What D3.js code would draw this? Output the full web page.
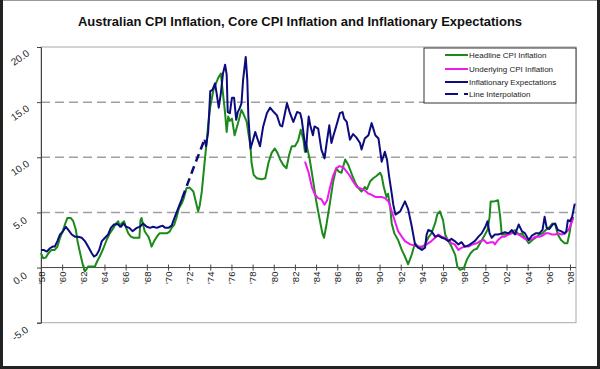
<!DOCTYPE html>
<html><head><meta charset="utf-8">
<script src="https://cdn.jsdelivr.net/npm/d3@7"></script>
<style>body{margin:0;background:#fff}svg{display:block}text{font-family:Arial,"Liberation Sans",sans-serif}</style>
</head><body><svg id="c" width="600" height="369"></svg>
<script>
const chartTitle = "Australian CPI Inflation, Core CPI Inflation and Inflationary Expectations";
const seriesNames = ["Headline CPI Inflation", "Underlying CPI Inflation", "Inflationary Expectations", "Line Interpolation"];
const xTickYears = [1958,1960,1962,1964,1966,1968,1970,1972,1974,1976,1978,1980,1982,1984,1986,1988,1990,1992,1994,1996,1998,2000,2002,2004,2006,2008];
const xTickLabels = ["'58","'60","'62","'64","'66","'68","'70","'72","'74","'76","'78","'80","'82","'84","'86","'88","'90","'92","'94","'96","'98","'00","'02","'04","'06","'08"];
const yTickValues = [-5, 0, 5, 10, 15, 20];
const yTickLabels = ["-5.0", "0.0", "5.0", "10.0", "15.0", "20.0"];
const gridValues = [5, 10, 15];

// [year, %]
const headline = [
[1958.0,1.3],[1958.2,0.85],[1958.45,0.9],[1958.7,1.3],[1959.0,1.6],[1959.3,1.6],[1959.55,1.9],[1959.8,2.7],[1960.05,3.3],[1960.3,4.0],[1960.5,4.5],[1960.8,4.5],[1961.05,4.2],[1961.3,3.4],[1961.45,2.4],[1961.7,1.3],[1961.95,0.25],[1962.15,-0.35],[1962.3,-0.15],[1962.45,0.1],[1962.8,0.1],[1963.1,0.1],[1963.3,0.55],[1963.55,1.0],[1963.9,1.75],[1964.2,2.5],[1964.5,3.1],[1964.85,3.6],[1965.1,4.0],[1965.3,4.2],[1965.45,3.7],[1965.6,4.0],[1965.85,4.2],[1966.05,3.6],[1966.25,3.1],[1966.5,2.8],[1966.75,2.7],[1967.05,2.7],[1967.3,2.7],[1967.4,4.3],[1967.5,4.5],[1967.65,3.9],[1967.8,3.3],[1968.0,3.0],[1968.15,2.8],[1968.3,2.4],[1968.45,1.9],[1968.7,2.4],[1968.95,2.8],[1969.2,3.1],[1969.55,3.1],[1969.9,3.1],[1970.15,3.25],[1970.35,3.6],[1970.6,3.9],[1970.8,4.5],[1971.05,5.4],[1971.3,5.8],[1971.5,6.3],[1971.75,7.2],[1972.05,7.25],[1972.4,6.9],[1972.6,6.1],[1972.85,5.1],[1973.0,5.6],[1973.2,6.9],[1973.35,8.4],[1973.5,9.9],[1973.65,11.3],[1973.8,12.9],[1974.0,14.6],[1974.3,16.1],[1974.75,17.2],[1975.0,17.6],[1975.2,15.8],[1975.4,14.0],[1975.55,12.3],[1975.7,13.7],[1975.85,13.3],[1976.05,13.5],[1976.3,12.0],[1976.65,13.2],[1976.95,14.3],[1977.15,13.9],[1977.45,13.2],[1977.6,12.2],[1977.8,11.0],[1977.9,9.5],[1978.1,8.4],[1978.4,8.1],[1978.85,8.0],[1979.2,8.1],[1979.5,9.5],[1979.8,10.4],[1980.1,10.8],[1980.35,10.4],[1980.6,9.8],[1980.9,9.3],[1981.2,9.0],[1981.45,10.2],[1981.7,11.0],[1982.0,11.0],[1982.3,11.5],[1982.55,12.5],[1982.8,11.6],[1982.95,10.5],[1983.1,11.1],[1983.4,9.8],[1983.7,8.0],[1984.0,6.1],[1984.35,4.3],[1984.6,3.1],[1984.75,2.7],[1985.0,4.0],[1985.3,5.8],[1985.6,7.7],[1985.9,9.0],[1986.15,8.7],[1986.4,8.6],[1986.75,9.8],[1987.05,9.3],[1987.4,8.4],[1987.7,7.7],[1988.0,7.2],[1988.3,6.9],[1988.6,7.3],[1988.8,7.1],[1989.1,7.8],[1989.4,8.1],[1989.7,8.3],[1990.05,8.6],[1990.2,8.3],[1990.4,7.3],[1990.65,6.4],[1990.8,6.7],[1991.0,5.5],[1991.15,4.0],[1991.4,3.1],[1991.75,2.5],[1992.1,1.6],[1992.4,1.0],[1992.7,0.3],[1993.05,1.2],[1993.35,2.2],[1993.65,1.9],[1994.0,1.8],[1994.3,2.1],[1994.6,2.7],[1994.9,3.1],[1995.25,4.0],[1995.45,4.8],[1995.7,5.1],[1996.0,4.3],[1996.2,3.0],[1996.5,2.4],[1996.8,1.9],[1997.15,1.15],[1997.35,0.1],[1997.6,-0.2],[1997.95,-0.1],[1998.25,0.7],[1998.6,1.3],[1998.9,1.6],[1999.2,1.7],[1999.5,2.2],[1999.85,2.8],[2000.2,3.4],[2000.4,4.6],[2000.5,6.0],[2000.85,6.0],[2001.2,6.1],[2001.4,4.6],[2001.55,3.0],[2001.9,3.0],[2002.2,3.1],[2002.5,3.2],[2002.8,3.4],[2003.15,3.0],[2003.45,3.1],[2003.75,2.7],[2004.1,2.2],[2004.45,2.5],[2004.75,2.7],[2005.1,3.0],[2005.4,3.1],[2005.7,3.4],[2006.0,3.6],[2006.35,4.0],[2006.6,3.9],[2006.85,3.0],[2007.15,2.5],[2007.5,2.2],[2007.75,2.2],[2007.95,3.1],[2008.1,4.0],[2008.3,4.6]
];

const underlying = [
[1982.95,9.6],[1983.3,8.6],[1983.6,7.3],[1983.9,6.6],[1984.2,6.3],[1984.5,6.2],[1984.8,5.7],[1985.05,6.1],[1985.3,7.2],[1985.6,8.3],[1985.9,9.0],[1986.2,9.2],[1986.55,9.1],[1986.9,8.7],[1987.2,8.3],[1987.5,7.8],[1987.85,7.3],[1988.15,7.2],[1988.6,7.0],[1988.95,6.7],[1989.25,6.6],[1989.6,6.4],[1989.9,6.4],[1990.2,6.4],[1990.5,6.3],[1990.85,6.0],[1991.15,5.1],[1991.45,4.2],[1991.75,3.3],[1992.1,2.8],[1992.4,2.4],[1992.9,2.1],[1993.3,2.0],[1993.65,1.9],[1994.0,1.9],[1994.45,2.1],[1994.9,2.4],[1995.25,2.7],[1995.55,3.0],[1995.85,2.8],[1996.2,2.7],[1996.5,2.5],[1996.8,2.2],[1997.1,2.1],[1997.45,1.6],[1997.75,1.8],[1998.05,1.9],[1998.4,1.9],[1998.8,2.1],[1999.2,2.2],[1999.5,2.4],[1999.85,2.5],[2000.15,2.2],[2000.5,2.3],[2000.75,2.3],[2000.9,2.1],[2001.2,2.5],[2001.55,2.8],[2001.85,2.8],[2002.2,3.0],[2002.5,3.1],[2002.8,3.1],[2003.15,3.0],[2003.45,2.8],[2003.75,2.6],[2004.1,2.5],[2004.45,2.6],[2004.75,2.8],[2005.1,2.8],[2005.4,2.9],[2005.7,3.1],[2006.0,3.1],[2006.3,3.0],[2006.6,3.0],[2006.9,3.1],[2007.2,3.0],[2007.55,3.1],[2007.85,3.4],[2008.2,4.2],[2008.3,4.5]
];

const expectations = [
[1958.0,1.6],[1958.25,1.6],[1958.55,1.45],[1958.85,1.75],[1959.1,1.9],[1959.3,1.9],[1959.55,2.4],[1959.8,3.0],[1960.05,3.25],[1960.35,3.7],[1960.6,3.4],[1960.9,3.0],[1961.2,2.8],[1961.5,2.8],[1961.85,2.7],[1962.15,2.4],[1962.45,1.9],[1962.8,1.3],[1963.0,1.0],[1963.25,1.15],[1963.5,1.6],[1963.75,2.4],[1964.05,2.7],[1964.35,3.0],[1964.6,3.6],[1964.9,3.9],[1965.2,3.95],[1965.55,3.7],[1965.8,4.0],[1966.05,3.7],[1966.35,3.6],[1966.65,3.3],[1967.05,3.6],[1967.35,3.7],[1967.65,4.0],[1968.0,3.7],[1968.3,3.6],[1968.6,3.7],[1968.95,3.6],[1969.2,3.7],[1969.5,3.8],[1969.75,3.6],[1970.05,3.6],[1970.35,3.8],[1970.65,4.6],[1970.9,5.2],[1971.1,5.7],[1971.35,6.3],
[1972.4,null],
[1973.45,11.6],[1973.6,11.0],[1973.8,12.3],[1974.0,16.0],[1974.2,16.1],[1974.45,16.7],[1974.6,15.8],[1974.8,14.5],[1975.0,15.8],[1975.2,17.6],[1975.4,18.4],[1975.55,17.5],[1975.65,14.1],[1975.85,14.0],[1976.05,15.4],[1976.25,15.4],[1976.45,13.4],[1976.6,14.1],[1976.8,14.5],[1976.95,14.9],[1977.1,17.0],[1977.35,19.1],[1977.5,17.0],[1977.6,13.7],[1977.8,10.8],[1978.05,11.6],[1978.25,12.3],[1978.45,11.7],[1978.7,11.0],[1979.0,12.8],[1979.35,14.0],[1979.65,14.5],[1980.0,14.1],[1980.3,13.8],[1980.6,12.9],[1980.8,12.8],[1980.95,13.5],[1981.25,14.9],[1981.5,14.1],[1981.85,13.2],[1982.2,14.1],[1982.5,14.0],[1982.65,13.4],[1982.85,11.9],[1983.05,10.5],[1983.15,12.0],[1983.3,13.7],[1983.45,12.9],[1983.7,12.0],[1983.85,12.8],[1984.2,12.6],[1984.5,10.7],[1984.8,9.9],[1985.0,11.3],[1985.25,12.9],[1985.45,11.3],[1985.65,12.0],[1985.9,12.8],[1986.25,14.0],[1986.5,14.1],[1986.65,13.5],[1986.9,13.2],[1987.2,11.6],[1987.5,12.1],[1987.8,11.8],[1988.15,11.3],[1988.3,10.7],[1988.6,11.7],[1988.95,12.0],[1989.25,13.1],[1989.6,12.0],[1989.9,11.7],[1990.2,9.6],[1990.5,10.5],[1990.7,9.8],[1990.9,8.3],[1991.15,6.7],[1991.3,5.7],[1991.5,4.8],[1991.95,5.1],[1992.4,6.0],[1992.7,5.3],[1993.05,3.7],[1993.35,2.1],[1993.65,1.8],[1994.0,1.6],[1994.3,1.8],[1994.45,3.0],[1994.6,3.4],[1994.9,3.3],[1995.25,2.8],[1995.55,2.9],[1995.9,2.7],[1996.2,2.6],[1996.5,2.4],[1996.8,2.6],[1997.1,2.4],[1997.45,2.1],[1997.75,2.3],[1998.05,1.9],[1998.4,2.0],[1998.7,2.2],[1999.0,2.4],[1999.35,2.8],[1999.65,3.1],[2000.0,3.7],[2000.2,4.2],[2000.4,3.1],[2000.6,2.7],[2000.9,3.0],[2001.2,3.0],[2001.55,3.1],[2001.85,3.2],[2002.2,3.1],[2002.5,3.4],[2002.8,3.0],[2003.15,3.9],[2003.45,3.3],[2003.75,3.1],[2004.1,2.5],[2004.4,2.9],[2004.75,3.1],[2005.1,3.1],[2005.4,3.4],[2005.6,4.6],[2005.8,3.6],[2006.05,3.5],[2006.35,3.9],[2006.6,4.0],[2006.85,3.4],[2007.15,3.3],[2007.5,3.1],[2007.65,3.3],[2007.8,4.3],[2008.0,4.2],[2008.2,4.6],[2008.45,5.8]
];

const interpolation = [[1971.35,6.3],[1972.4,9.0],[1973.45,11.6]];

const colors = {headline:"#1b8a1b", underlying:"#f018f0", expectations:"#0c0c7e"};

const svg = d3.select('#c');
svg.append('rect').attr('x',0).attr('y',0).attr('width',600).attr('height',369).attr('fill','#fff');

const x = d3.scaleLinear().domain([1958, 2008]).range([41, 570]);
const y = d3.scaleLinear().domain([-5, 20]).range([322.7, 47]);
const plotL = 41, plotR = 576, plotT = y(20), plotB = y(-5);

// title
svg.append('text').attr('x',300).attr('y',26).attr('text-anchor','middle')
  .attr('font-size',13).attr('font-weight','bold').attr('fill','#111').text(chartTitle);

// plot border
svg.append('rect').attr('x',plotL).attr('y',plotT).attr('width',plotR-plotL).attr('height',plotB-plotT)
  .attr('fill','none').attr('stroke','#a8a8a8').attr('stroke-width',1);

// gridlines
svg.append('g').selectAll('line').data(gridValues).join('line')
  .attr('x1',plotL).attr('x2',plotR).attr('y1',d=>y(d)).attr('y2',d=>y(d))
  .attr('stroke','#a0a0a0').attr('stroke-width',1.5).attr('stroke-dasharray','9,5');

// y axis
const yAxis = d3.axisLeft(y).tickValues(yTickValues).tickFormat((d,i)=>yTickLabels[i]).tickSize(4);
const gy = svg.append('g').attr('transform',`translate(${plotL},0)`).call(yAxis);
gy.select('.domain').attr('stroke','#444');
gy.selectAll('.tick line').attr('stroke','#444');
gy.selectAll('.tick text').attr('font-size',10).attr('fill','#222')
  .attr('text-anchor','middle').attr('x',0).attr('dy',0)
  .attr('transform','translate(-19,13) rotate(-35)');

// x axis at zero
const xAxis = d3.axisBottom(x).tickValues(xTickYears).tickFormat((d,i)=>xTickLabels[i]).tickSize(3);
const gx = svg.append('g').attr('transform',`translate(0,${y(0)})`).call(xAxis);
gx.select('.domain').attr('stroke','#444').attr('d',`M${plotL},0H${plotR}`);
gx.selectAll('.tick line').attr('stroke','#444').attr('y1',-3).attr('y2',3);
gx.selectAll('.tick text').attr('font-size',9.5).attr('fill','#222')
  .attr('text-anchor','end').attr('y',0).attr('dy','0.35em')
  .attr('transform','translate(0,4) rotate(-90)');

// lines
const line = d3.line().defined(d=>d[1]!==null).x(d=>x(d[0])).y(d=>y(d[1]));
const g = svg.append('g').attr('fill','none').attr('stroke-linejoin','round');
g.append('path').datum(headline).attr('d',line).attr('stroke',colors.headline).attr('stroke-width',2);
g.append('path').datum(underlying).attr('d',line).attr('stroke',colors.underlying).attr('stroke-width',2);
g.append('path').datum(expectations).attr('d',line).attr('stroke',colors.expectations).attr('stroke-width',2);
g.append('path').datum(interpolation).attr('d',line).attr('stroke',colors.expectations).attr('stroke-width',2.5).attr('stroke-dasharray','8,5');

// legend
const lg = svg.append('g');
lg.append('rect').attr('x',424).attr('y',48).attr('width',152).attr('height',55)
  .attr('fill','#fff').attr('stroke','#333').attr('stroke-width',1);
const legendItems = [
  {name:seriesNames[0], color:colors.headline, dash:null},
  {name:seriesNames[1], color:colors.underlying, dash:null},
  {name:seriesNames[2], color:colors.expectations, dash:null},
  {name:seriesNames[3], color:colors.expectations, dash:'13,6'}
];
const ly = [55, 69, 82, 94];
legendItems.forEach((it,i)=>{
  lg.append('line').attr('x1',445).attr('x2',468).attr('y1',ly[i]).attr('y2',ly[i])
    .attr('stroke',it.color).attr('stroke-width',2).attr('stroke-dasharray',it.dash);
  lg.append('text').attr('x',469).attr('y',ly[i]).attr('dy','0.35em')
    .attr('font-size',8).attr('fill','#222').text(it.name);
});

// outer frame
svg.append('line').attr('x1',0).attr('x2',600).attr('y1',0.5).attr('y2',0.5).attr('stroke','#999');
svg.append('line').attr('x1',1.5).attr('x2',1.5).attr('y1',0).attr('y2',369).attr('stroke','#222').attr('stroke-width',3);
svg.append('line').attr('x1',598.5).attr('x2',598.5).attr('y1',0).attr('y2',369).attr('stroke','#222').attr('stroke-width',3);
svg.append('line').attr('x1',0).attr('x2',600).attr('y1',367.5).attr('y2',367.5).attr('stroke','#222').attr('stroke-width',3);
</script></body></html>
